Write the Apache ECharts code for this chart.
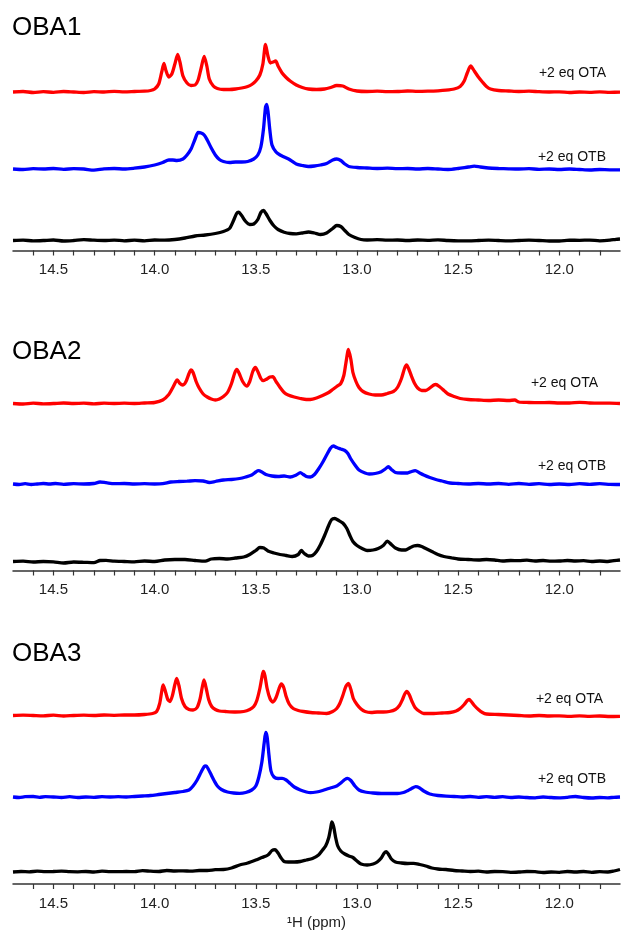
<!DOCTYPE html>
<html>
<head>
<meta charset="utf-8">
<script src="https://cdn.jsdelivr.net/npm/echarts@6/dist/echarts.min.js"></script>
<style>html,body{margin:0;padding:0;background:#fff;}#c{width:635px;height:933px;}</style>
</head>
<body>
<div id="c"></div>
<script>
// ---------- DATA (ppm, intensity) ----------
const panelTitles = ['OBA1', 'OBA2', 'OBA3'];
const traceLabels = ['+2 eq OTA', '+2 eq OTB', ''];
const xTickLabels = ['14.5', '14.0', '13.5', '13.0', '12.5', '12.0'];
const axisTitle = '\u00B9H (ppm)';

const oba1_OTA = [[14.70,0],[14.65,0.5],[14.60,-0.5],[14.55,0.3],[14.50,-0.3],[14.45,0.5],[14.40,0],[14.35,-0.5],[14.30,0.4],[14.25,0],[14.20,0.6],[14.15,0.2],[14.10,0.5],[14.05,0.8],[14.02,1.5],[14.00,3],[13.98,8],[13.965,20],[13.954,28.5],[13.945,22],[13.93,15],[13.915,18],[13.90,28],[13.886,37.5],[13.875,30],[13.86,16],[13.84,9],[13.82,6.5],[13.80,7],[13.785,12],[13.77,24],[13.755,35.5],[13.742,26],[13.73,13],[13.71,6],[13.69,3.5],[13.66,2.5],[13.63,2.5],[13.60,3],[13.57,4],[13.54,5.5],[13.52,7.5],[13.50,11],[13.48,17],[13.465,28],[13.452,47.5],[13.44,36],[13.428,29],[13.415,30],[13.402,31],[13.39,26],[13.37,19],[13.35,14.5],[13.33,11],[13.30,7],[13.27,4.5],[13.24,3],[13.20,2.5],[13.16,3],[13.13,4.5],[13.10,6.5],[13.07,6],[13.04,3],[13.00,1],[12.95,0.5],[12.90,0.8],[12.85,0.3],[12.80,0.5],[12.75,1],[12.70,0.6],[12.65,0.8],[12.60,1.2],[12.56,1.8],[12.52,3],[12.49,5.5],[12.47,11],[12.455,19],[12.438,26],[12.42,21],[12.40,15],[12.38,10],[12.36,5.5],[12.34,3],[12.30,1.5],[12.25,1],[12.20,0.5],[12.15,0.8],[12.10,0.3],[12.05,0],[12.00,0.2],[11.95,-0.5],[11.90,0],[11.85,-0.3],[11.80,0.2],[11.75,-0.3],[11.70,-0.2]];

const oba1_OTB = [[14.70,0],[14.65,-0.5],[14.60,0.3],[14.55,0],[14.50,0.5],[14.45,-0.3],[14.40,0.3],[14.35,0],[14.30,-1.2],[14.25,0.2],[14.20,0.5],[14.15,0],[14.10,0.8],[14.05,2],[14.00,4],[13.96,6.5],[13.93,9],[13.91,9],[13.89,8.5],[13.86,10],[13.84,14],[13.82,20],[13.80,30],[13.785,36.5],[13.77,36],[13.755,34],[13.74,29],[13.72,21],[13.70,14],[13.68,9.5],[13.66,7.5],[13.63,6.5],[13.60,7],[13.57,7],[13.54,7.5],[13.51,10],[13.49,14],[13.475,22],[13.462,40],[13.452,62],[13.446,64.5],[13.44,58],[13.43,38],[13.42,24],[13.40,17],[13.38,14],[13.36,12],[13.33,9],[13.30,5],[13.27,3.5],[13.24,2.5],[13.21,3],[13.18,4],[13.15,5.5],[13.12,9],[13.10,10],[13.08,8.5],[13.06,5],[13.04,2.5],[13.00,1.5],[12.95,1],[12.90,0.5],[12.85,0.8],[12.80,0.3],[12.75,0.5],[12.70,0],[12.65,0.5],[12.60,0],[12.55,-0.5],[12.50,0.5],[12.45,2],[12.42,2.8],[12.39,2],[12.35,1],[12.30,0.5],[12.25,0.2],[12.20,0],[12.15,0.3],[12.10,-0.3],[12.05,0],[12.00,-0.5],[11.95,0],[11.90,-0.5],[11.85,-1],[11.80,-0.5],[11.75,-0.8],[11.70,-0.8]];

const oba1_free = [[14.70,0],[14.65,0.3],[14.60,-0.3],[14.55,0],[14.50,0.5],[14.45,-0.5],[14.40,0],[14.35,0.8],[14.30,0.3],[14.25,0],[14.20,0.4],[14.15,-0.3],[14.10,0.3],[14.05,-0.3],[14.00,0.5],[13.95,0.3],[13.90,1],[13.85,2.5],[13.80,4.5],[13.75,5.5],[13.70,7],[13.66,9],[13.63,12],[13.61,20],[13.595,27],[13.585,28.3],[13.57,25],[13.55,19],[13.53,16],[13.51,16.5],[13.49,21],[13.475,28],[13.462,30],[13.45,27],[13.43,20],[13.41,14.5],[13.39,11],[13.36,8.3],[13.33,7],[13.30,6.7],[13.27,7.5],[13.24,8.5],[13.21,7.5],[13.18,6],[13.15,7.5],[13.12,12],[13.10,15],[13.08,14],[13.06,10],[13.04,6],[13.01,3],[12.98,1],[12.95,0.5],[12.90,0.8],[12.85,0.3],[12.80,0.5],[12.75,0],[12.70,0.5],[12.65,0.2],[12.60,0.6],[12.55,0],[12.50,-0.3],[12.45,-0.3],[12.40,0],[12.35,0.4],[12.30,0],[12.25,-0.3],[12.20,0],[12.15,0.3],[12.10,0],[12.05,-0.5],[12.00,-0.5],[11.95,0.3],[11.90,0.2],[11.85,0.4],[11.80,-0.3],[11.75,0.3],[11.72,1.2],[11.70,1.5]];

const oba2_OTA = [[14.70,0],[14.65,-0.5],[14.60,0.3],[14.55,-0.3],[14.50,0],[14.45,0.5],[14.40,0],[14.35,0.3],[14.30,-0.3],[14.25,0.3],[14.20,0],[14.15,0.3],[14.10,0],[14.05,0.5],[14.00,1],[13.96,3.5],[13.93,9],[13.91,16],[13.895,22],[13.888,23.5],[13.875,20],[13.86,18.5],[13.845,22],[13.83,30],[13.82,33.5],[13.81,31],[13.795,22],[13.78,15.5],[13.76,9.5],[13.74,6.5],[13.72,4.5],[13.70,3.5],[13.68,4.5],[13.66,7],[13.64,11],[13.62,20],[13.605,30],[13.594,34],[13.582,30],[13.565,22],[13.545,17.5],[13.53,22],[13.515,32],[13.502,36],[13.49,32],[13.475,25],[13.463,22.8],[13.45,24],[13.43,26.5],[13.416,26.8],[13.40,22],[13.38,16],[13.36,11],[13.34,8.5],[13.31,6.5],[13.28,5],[13.25,4],[13.23,4],[13.20,5.5],[13.17,8],[13.14,11],[13.12,14],[13.10,17],[13.08,20],[13.065,28],[13.055,40],[13.042,54],[13.03,44],[13.02,31],[13.005,22],[12.99,16],[12.97,12],[12.94,9.5],[12.91,8.5],[12.88,8.5],[12.85,10],[12.82,12],[12.80,16],[12.78,25],[12.765,35],[12.755,38.5],[12.745,35],[12.73,27],[12.715,20],[12.70,15.5],[12.68,13],[12.66,13],[12.64,15.5],[12.62,18.5],[12.61,19],[12.59,16.5],[12.57,13],[12.55,9.5],[12.52,7],[12.49,5],[12.45,4],[12.40,3.5],[12.35,3],[12.30,3.5],[12.25,3],[12.22,3.5],[12.20,1.5],[12.15,1],[12.10,0.8],[12.05,1],[12.00,0.5],[11.95,0.5],[11.90,1.2],[11.85,0.5],[11.80,0.3],[11.75,0.3],[11.70,0]];

const oba2_OTB = [[14.70,0],[14.67,-0.5],[14.64,0.3],[14.61,-0.5],[14.58,0],[14.55,0.5],[14.52,0],[14.49,0.5],[14.45,-0.3],[14.40,0.3],[14.35,0],[14.30,0.5],[14.27,2],[14.24,1.3],[14.20,0.3],[14.15,0.5],[14.10,0],[14.05,0.3],[14.00,0],[13.96,0.3],[13.92,2],[13.88,2.5],[13.84,2.8],[13.80,3.3],[13.76,3],[13.73,1.5],[13.70,2.5],[13.66,4],[13.62,4.5],[13.58,5.5],[13.55,7],[13.52,9],[13.50,12],[13.487,13.3],[13.47,12],[13.45,9.5],[13.42,8],[13.39,7.5],[13.36,8],[13.33,7],[13.30,9],[13.28,11.3],[13.265,9.5],[13.25,7.5],[13.23,7],[13.21,9.5],[13.19,15],[13.17,21.5],[13.15,29],[13.13,36],[13.117,38],[13.10,36.5],[13.08,35],[13.06,33.5],[13.045,30.5],[13.03,25],[13.01,19],[12.99,14],[12.96,11],[12.94,10],[12.91,10.5],[12.88,12.3],[12.86,15],[12.845,17.3],[12.83,14.5],[12.81,11.5],[12.78,11],[12.75,11],[12.73,12.5],[12.712,13.3],[12.69,11],[12.67,9],[12.64,6.5],[12.61,4.5],[12.58,3],[12.54,1],[12.50,0.5],[12.45,0],[12.40,0.5],[12.35,0],[12.30,0.5],[12.25,-0.3],[12.20,0.5],[12.15,-0.3],[12.10,0.3],[12.05,-0.5],[12.00,0],[11.95,-0.5],[11.90,0.3],[11.85,-0.3],[11.80,0.3],[11.75,-0.3],[11.70,-0.5]];

const oba2_free = [[14.70,0],[14.65,0.3],[14.60,-0.5],[14.55,0],[14.50,-0.3],[14.45,-1.5],[14.40,-0.5],[14.35,-0.8],[14.30,-1.2],[14.27,1],[14.24,1.2],[14.20,0.3],[14.15,0],[14.10,-0.3],[14.05,0.5],[14.00,0],[13.95,1.5],[13.90,2],[13.85,2],[13.80,1],[13.75,0.3],[13.72,2.5],[13.68,3],[13.64,2.5],[13.60,3.5],[13.56,4.5],[13.53,7],[13.50,11],[13.48,14],[13.46,13.5],[13.44,10.5],[13.41,8.5],[13.38,7],[13.35,6],[13.32,5],[13.29,7],[13.275,11],[13.26,8],[13.24,5.5],[13.22,6],[13.20,10],[13.18,17],[13.16,26],[13.14,36],[13.125,42],[13.11,43],[13.09,41],[13.07,38.5],[13.05,33],[13.035,26],[13.02,20],[13.00,16],[12.97,12.5],[12.95,11],[12.92,11.5],[12.895,13],[12.87,16],[12.85,20.3],[12.83,17],[12.81,13.5],[12.78,11.5],[12.76,11.5],[12.74,13.5],[12.72,15.5],[12.70,16],[12.68,15],[12.66,13],[12.63,10],[12.60,7],[12.57,5],[12.53,3.5],[12.50,2.5],[12.45,2],[12.40,1.5],[12.36,2],[12.32,1.5],[12.28,0.5],[12.24,1],[12.20,0.8],[12.16,1.3],[12.12,0.5],[12.08,1],[12.04,0.3],[12.00,0.5],[11.96,1],[11.92,0.5],[11.88,0.8],[11.84,0],[11.80,0.5],[11.76,0],[11.73,0.8],[11.70,1.5]];

const oba3_OTA = [[14.70,0],[14.65,0.3],[14.60,0],[14.55,-0.3],[14.50,0.3],[14.45,-0.5],[14.40,0],[14.35,0.3],[14.30,0],[14.25,0.5],[14.20,0.2],[14.15,0.5],[14.10,0.5],[14.05,1],[14.01,2],[13.99,4],[13.975,12],[13.965,24],[13.958,30.5],[13.948,25],[13.935,16],[13.924,14],[13.912,20],[13.90,31],[13.891,37],[13.88,30],[13.867,17],[13.85,9],[13.83,6],[13.81,5.5],[13.79,8],[13.775,17],[13.765,28],[13.756,35.5],[13.745,27],[13.733,16],[13.718,9],[13.70,6],[13.68,4.5],[13.65,4],[13.60,3.5],[13.56,4],[13.53,6],[13.51,9],[13.495,15],[13.48,27],[13.47,38],[13.463,44],[13.455,40],[13.444,27],[13.43,17],[13.416,13.5],[13.40,18],[13.385,27],[13.374,31.5],[13.362,28],[13.35,19],[13.335,11.5],[13.315,7],[13.29,5],[13.265,4],[13.23,3],[13.19,2.5],[13.15,2],[13.12,4],[13.10,7],[13.085,12],[13.07,20],[13.055,29],[13.042,32],[13.03,26],[13.018,17],[13.00,11],[12.98,6.5],[12.96,4],[12.93,3],[12.90,3.5],[12.87,3.5],[12.84,4],[12.81,6],[12.79,10],[12.775,16],[12.765,21],[12.754,24],[12.742,21],[12.728,14],[12.713,8],[12.69,4],[12.67,2],[12.62,2],[12.58,2.5],[12.54,3],[12.51,4.5],[12.49,7],[12.47,11],[12.455,15],[12.446,16],[12.435,14],[12.42,10],[12.40,6],[12.38,3],[12.36,1.5],[12.30,1],[12.25,0.5],[12.20,0],[12.15,-0.5],[12.10,0],[12.05,-0.5],[12.00,-0.3],[11.95,-0.8],[11.90,-0.3],[11.85,-0.8],[11.80,-0.5],[11.75,-1],[11.70,-0.8]];

const oba3_OTB = [[14.70,0],[14.67,-0.5],[14.64,0.3],[14.60,0.5],[14.57,-0.3],[14.54,0.3],[14.50,0],[14.46,-0.5],[14.42,0.3],[14.38,-0.5],[14.34,0],[14.30,-0.3],[14.26,0.3],[14.22,0],[14.18,0.3],[14.14,0],[14.10,0.5],[14.06,1],[14.02,1.5],[13.98,2.5],[13.94,3.5],[13.90,4.5],[13.86,5.5],[13.83,7],[13.81,11],[13.79,17],[13.77,25],[13.755,30.5],[13.746,31],[13.735,28],[13.72,22],[13.705,16],[13.69,11],[13.67,7.5],[13.64,5],[13.61,4],[13.58,3.7],[13.55,4.5],[13.52,7],[13.50,11],[13.485,20],[13.47,35],[13.458,55],[13.451,64.5],[13.444,60],[13.435,42],[13.425,26],[13.41,20],[13.39,18.5],[13.37,18.7],[13.35,17],[13.33,13.5],[13.31,10],[13.28,7],[13.25,5],[13.23,4.3],[13.20,5],[13.17,6.5],[13.14,8.5],[13.10,11],[13.08,14],[13.06,17.5],[13.046,18.7],[13.03,16.5],[13.01,11],[12.99,7],[12.96,5],[12.92,4],[12.88,3.5],[12.84,3.5],[12.80,3.5],[12.77,4.5],[12.75,6.3],[12.73,8.5],[12.71,10.3],[12.69,9],[12.67,6],[12.64,3],[12.60,1.5],[12.56,0.8],[12.52,0.5],[12.48,0],[12.44,0.5],[12.40,-0.3],[12.36,0.3],[12.32,-0.3],[12.28,0.3],[12.24,-0.5],[12.20,0],[12.16,-0.5],[12.12,-0.8],[12.08,0],[12.04,-0.5],[12.00,-0.8],[11.96,-0.3],[11.92,0.5],[11.88,-0.5],[11.84,-1],[11.80,-0.5],[11.76,-0.8],[11.73,-0.3],[11.70,0]];

const oba3_free = [[14.70,0],[14.66,0.5],[14.62,0.2],[14.58,0.8],[14.54,0.3],[14.50,0.5],[14.46,0.8],[14.42,0.3],[14.38,0.2],[14.34,0.5],[14.30,0],[14.26,0.8],[14.22,0.3],[14.18,0.3],[14.14,0.5],[14.10,0.3],[14.06,1.3],[14.02,0.8],[13.98,0.5],[13.94,1.5],[13.90,1],[13.86,1.2],[13.82,0.8],[13.78,1.5],[13.74,1.5],[13.70,2.3],[13.66,2.5],[13.62,4],[13.58,7],[13.54,9],[13.50,12],[13.47,14.5],[13.44,17],[13.42,21.5],[13.405,22.3],[13.39,19],[13.375,14],[13.36,10.5],[13.34,10],[13.31,10],[13.28,10.5],[13.25,12],[13.22,13.5],[13.19,17],[13.17,22],[13.155,26],[13.14,34],[13.13,44],[13.124,50],[13.115,45],[13.105,34],[13.095,26],[13.08,21],[13.06,18],[13.04,16],[13.02,14.5],[13.00,11],[12.98,8],[12.95,7],[12.92,8],[12.90,10],[12.88,14],[12.865,19],[12.855,20.3],[12.845,18],[12.83,13],[12.81,10],[12.78,9],[12.75,8.5],[12.72,8.7],[12.69,7.5],[12.66,6],[12.63,4],[12.60,3],[12.56,2.5],[12.52,1.5],[12.48,1],[12.44,0.5],[12.40,0.8],[12.36,0],[12.32,0.5],[12.28,0.3],[12.24,-0.3],[12.20,0],[12.16,0.5],[12.12,0.3],[12.08,-0.5],[12.04,0],[12.00,-0.3],[11.96,0.5],[11.92,0],[11.88,0.5],[11.84,-0.3],[11.80,0.3],[11.76,0],[11.73,1],[11.70,2.5]];

const panelTraces = [
  [oba1_OTA, oba1_OTB, oba1_free],
  [oba2_OTA, oba2_OTB, oba2_free],
  [oba3_OTA, oba3_OTB, oba3_free]
];

// ---------- LAYOUT / STYLE ----------
const traceColors = ['#ff0000', '#0000ff', '#000000'];
const gridTop = [40, 360, 675];
const axisY = [250.5, 570.5, 884];
const baselineY = [[92, 169, 240.5], [403.5, 484, 561.5], [715.5, 797, 872]];
const titleY = [15, 339, 641];
const labelPos = [[[606, 73], [606, 157]], [[598, 383], [606, 466]], [[603, 699], [606, 779]]];
const FONT = '"Liberation Sans", Arial, sans-serif';

const grids = [], xAxes = [], yAxes = [], series = [], titles = [], graphics = [];
for (let p = 0; p < 3; p++) {
  const h = axisY[p] - gridTop[p];
  grids.push({ left: 13, right: 15, top: gridTop[p], height: h });
  xAxes.push({
    type: 'value', gridIndex: p, inverse: true, min: 11.7, max: 14.7, interval: 0.1,
    axisLine: { show: true, onZero: false, lineStyle: { color: '#333', width: 1.5 } },
    axisTick: { show: true, length: 5, inside: false, lineStyle: { color: '#333', width: 1.2 } },
    splitLine: { show: false },
    axisLabel: {
      margin: 12, color: '#222', fontSize: 15, fontFamily: FONT,
      showMinLabel: false, showMaxLabel: false,
      formatter: function (v) {
        const s = (Math.round(v * 10) / 10).toFixed(1);
        return xTickLabels.indexOf(s) >= 0 ? s : '';
      }
    },
    name: p === 2 ? axisTitle : '', nameLocation: 'middle', nameGap: 31,
    nameTextStyle: { fontSize: 15, color: '#222', fontFamily: FONT }
  });
  for (let t = 0; t < 3; t++) {
    const yIdx = yAxes.length;
    const mn = baselineY[p][t] - axisY[p];
    yAxes.push({ type: 'value', gridIndex: p, min: mn, max: mn + h, show: false, splitLine: { show: false } });
    series.push({
      type: 'line', xAxisIndex: p, yAxisIndex: yIdx, data: panelTraces[p][t],
      showSymbol: false, symbol: 'none', smooth: 0.25, clip: false,
      lineStyle: { color: traceColors[t], width: 3.3 }, silent: true
    });
    if (traceLabels[t]) {
      graphics.push({
        type: 'text', x: labelPos[p][t][0], y: labelPos[p][t][1],
        style: { text: traceLabels[t], fill: '#111', font: '14px ' + FONT, textAlign: 'right', textVerticalAlign: 'middle' }
      });
    }
  }
  titles.push({ text: panelTitles[p], left: 12, top: titleY[p], padding: 0,
    textStyle: { fontSize: 26, fontWeight: 'normal', color: '#000', fontFamily: FONT } });
}

const chart = echarts.init(document.getElementById('c'), null, { renderer: 'canvas' });
chart.setOption({
  animation: false,
  backgroundColor: '#ffffff',
  title: titles,
  grid: grids,
  xAxis: xAxes,
  yAxis: yAxes,
  series: series,
  graphic: graphics
});
</script>
</body>
</html>
